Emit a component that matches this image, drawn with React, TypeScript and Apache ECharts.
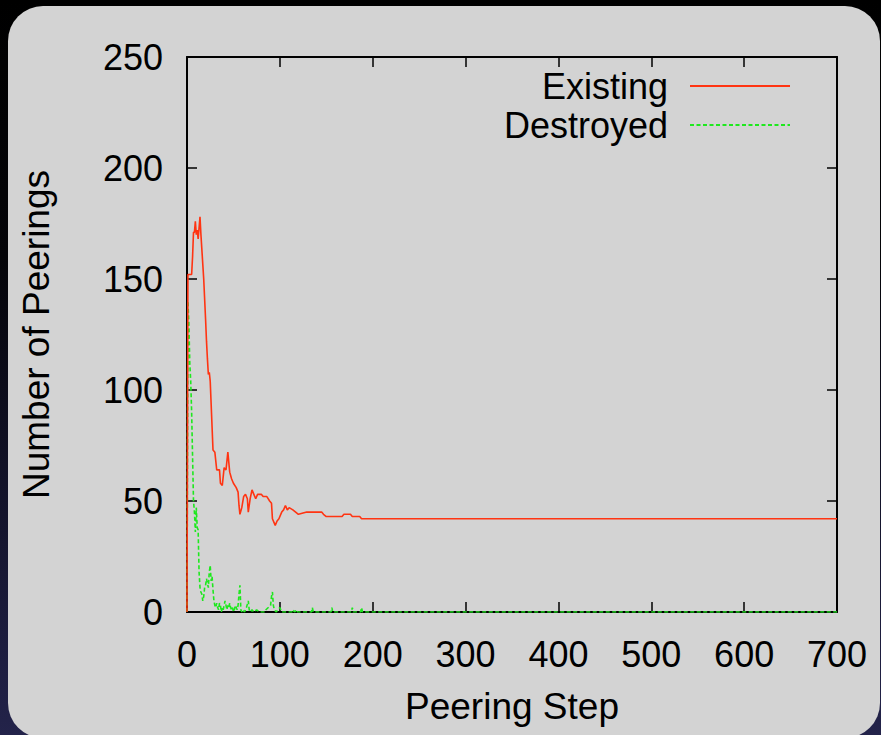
import React, { useEffect, useRef } from "react";
import * as echarts from "echarts";

const seriesNames = ["Existing", "Destroyed"];

const existing: [number, number][] = [
  [0, 0], [1, 152], [5, 152], [6, 160], [7, 171], [8, 171], [9, 176], [10, 170], [11, 172],
  [12, 168], [13, 173], [14, 178], [15, 170], [18, 150], [20, 132], [21, 122], [22, 114],
  [23, 107], [24, 108], [25, 104], [28, 73], [30, 72], [32, 64], [35, 64], [36, 58], [38, 57],
  [40, 65], [42, 64], [44, 72], [46, 63], [48, 60], [50, 58], [53, 56], [55, 54], [56, 48],
  [57, 44], [59, 47], [61, 52], [63, 53], [65, 51], [66, 45], [68, 51], [70, 55], [72, 53],
  [74, 51], [76, 53], [80, 53], [82, 52], [86, 52], [89, 50], [91, 49], [92, 42], [95, 39],
  [97, 41], [99, 42], [102, 45], [104, 46], [106, 48], [108, 46], [110, 47], [114, 46],
  [117, 45], [120, 44], [129, 45], [145, 45], [147, 44], [150, 43], [167, 43], [169, 44],
  [176, 44], [178, 43], [186, 43], [188, 42], [700, 42],
];

const destroyed: [number, number][] = [
  [0, 0], [1, 140], [2, 130], [3, 112], [4, 104], [5, 90], [6, 70], [7, 50], [8, 45], [9, 36],
  [10, 47], [11, 38], [12, 37], [13, 18], [14, 11], [15, 9], [16, 8], [17, 5], [18, 7],
  [19, 11], [20, 12], [21, 15], [22, 13], [23, 11], [24, 18], [25, 21], [26, 14], [27, 16],
  [28, 10], [29, 5], [30, 3], [31, 2], [32, 4], [33, 2], [34, 1], [35, 4], [36, 3], [37, 0],
  [38, 2], [39, 1], [40, 3], [41, 5], [42, 3], [43, 1], [44, 3], [45, 2], [46, 4], [47, 2],
  [48, 1], [49, 2], [50, 0], [51, 1], [52, 3], [53, 2], [54, 1], [55, 3], [56, 8], [57, 12],
  [58, 1], [59, 0], [60, 1], [62, 0], [64, 2], [66, 5], [67, 1], [68, 0], [70, 1], [72, 0],
  [75, 1], [78, 0], [84, 0], [85, 1], [90, 3], [91, 7], [92, 9], [93, 3], [94, 1], [96, 0],
  [100, 2], [102, 0], [113, 0], [114, 1], [116, 0], [118, 1], [119, 0], [134, 0], [135, 2],
  [136, 0], [155, 0], [156, 2], [157, 0], [177, 0], [178, 2], [179, 0], [187, 0], [188, 2],
  [189, 0], [700, 0],
];

const xMin = 0, xMax = 700, xStep = 100;
const yMin = 0, yMax = 250, yStep = 50;
const xTitle = "Peering Step";
const yTitle = "Number of Peerings";

const FONT = "'Liberation Sans', Arial, Helvetica, sans-serif";

export default function App() {
  const ref = useRef<HTMLDivElement>(null);
  useEffect(() => {
    document.body.style.margin = "0";
    if (!ref.current) return;
    const chart = echarts.init(ref.current, undefined, { renderer: "svg" });
    const axisLine = () => ({ show: true, onZero: false, lineStyle: { color: "#000", width: 2 } });
    const axisTick = () => ({ show: true, inside: true, length: 10, lineStyle: { color: "#000", width: 1.5 } });
    const label = { color: "#000", fontSize: 36, fontFamily: FONT };
    chart.setOption({
      animation: false,
      backgroundColor: "transparent",
      graphic: [
        {
          type: "rect",
          z: -10,
          silent: true,
          shape: { x: 8, y: 6, width: 872, height: 732, r: 35 },
          style: { fill: "#d3d3d3" },
        },
      ],
      grid: { left: 187, right: 44, top: 57, bottom: 123, containLabel: false },
      legend: {
        orient: "vertical",
        align: "right",
        right: 85,
        top: 62,
        itemWidth: 100,
        itemHeight: 14,
        itemGap: 1,
        itemStyle: { opacity: 0 },
        textStyle: { ...label, lineHeight: 38, padding: [0, 17, 0, 0] },
        data: seriesNames,
      },
      xAxis: [
        {
          type: "value",
          min: xMin,
          max: xMax,
          interval: xStep,
          position: "bottom",
          name: xTitle,
          nameLocation: "middle",
          nameGap: 76,
          nameTextStyle: { ...label, fontSize: 37 },
          axisLine: axisLine(),
          axisTick: axisTick(),
          axisLabel: { ...label, margin: 24 },
          splitLine: { show: false },
        },
        {
          type: "value",
          min: xMin,
          max: xMax,
          interval: xStep,
          position: "top",
          axisLine: axisLine(),
          axisTick: axisTick(),
          axisLabel: { show: false },
          splitLine: { show: false },
        },
      ],
      yAxis: [
        {
          type: "value",
          min: yMin,
          max: yMax,
          interval: yStep,
          position: "left",
          name: yTitle,
          nameLocation: "middle",
          nameGap: 132,
          nameTextStyle: { ...label, fontSize: 37 },
          axisLine: axisLine(),
          axisTick: axisTick(),
          axisLabel: { ...label, margin: 24 },
          splitLine: { show: false },
        },
        {
          type: "value",
          min: yMin,
          max: yMax,
          interval: yStep,
          position: "right",
          axisLine: axisLine(),
          axisTick: axisTick(),
          axisLabel: { show: false },
          splitLine: { show: false },
        },
      ],
      series: [
        {
          name: seriesNames[0],
          type: "line",
          data: existing,
          symbol: "none",
          color: "#ff3412",
          lineStyle: { color: "#ff3412", width: 1.6 },
          z: 3,
        },
        {
          name: seriesNames[1],
          type: "line",
          data: destroyed,
          symbol: "none",
          color: "#1ee81e",
          lineStyle: { color: "#1ee81e", width: 1.6, type: [4, 2.5] },
          z: 2,
        },
      ],
    });
    return () => chart.dispose();
  }, []);
  return (
    <div
      style={{
        position: "relative",
        width: 881,
        height: 735,
        overflow: "hidden",
        background:
          "linear-gradient(180deg, #000 0%, #040408 35%, #14142c 70%, #23234a 100%)",
      }}
    >
      <div ref={ref} style={{ position: "absolute", left: 0, top: 0, width: 881, height: 735 }} />
    </div>
  );
}
